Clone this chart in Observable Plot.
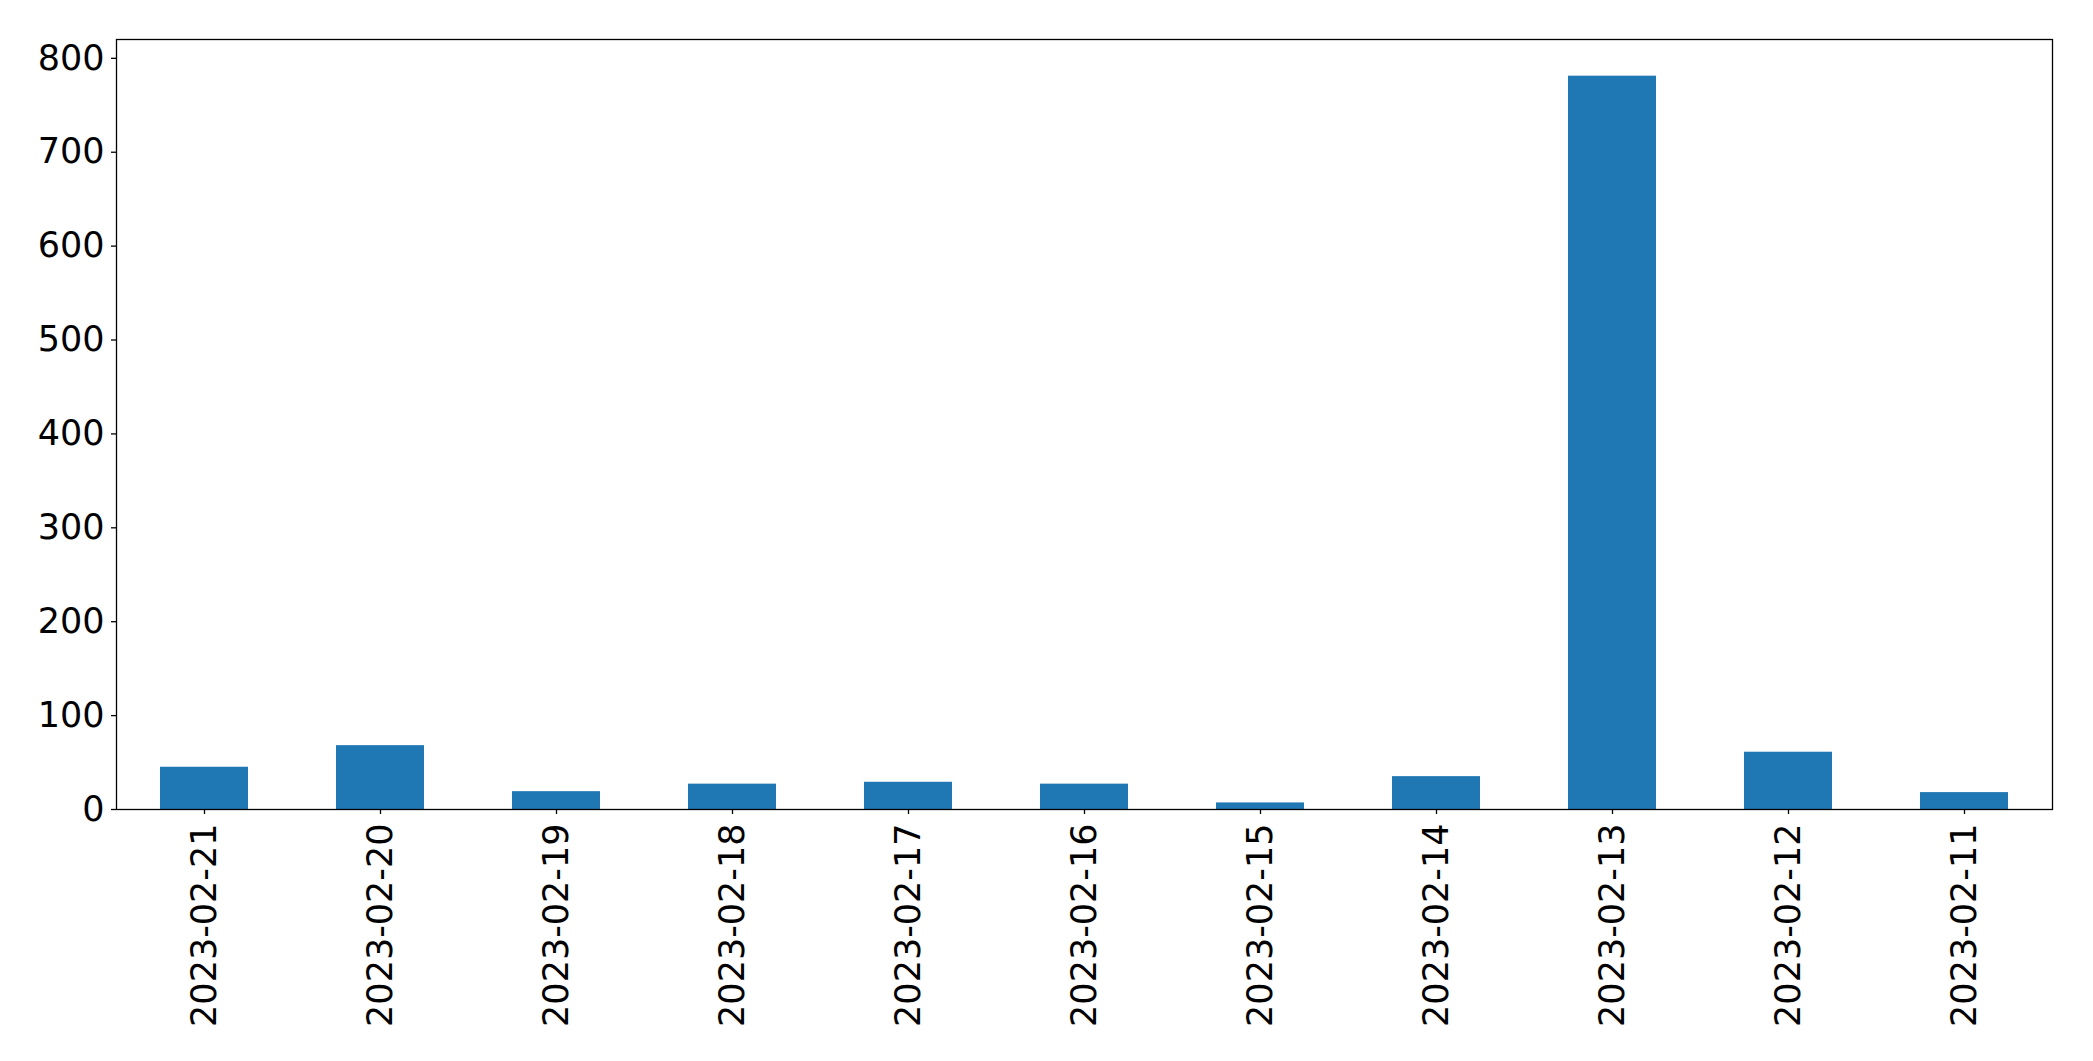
<!DOCTYPE html>
<html>
<head>
<meta charset="utf-8">
<script src="https://cdn.jsdelivr.net/npm/d3@7"></script>
<script src="https://cdn.jsdelivr.net/npm/@observablehq/plot@0.6"></script>
<style>
  html, body { margin: 0; padding: 0; background: #fff; }
  #chart svg { display: block; }
</style>
</head>
<body>
<div id="chart"></div>
<script>
const dates = ["2023-02-21","2023-02-20","2023-02-19","2023-02-18","2023-02-17","2023-02-16","2023-02-15","2023-02-14","2023-02-13","2023-02-12","2023-02-11"];
const counts = [45, 68, 19, 27, 29, 27, 7, 35, 781, 61, 18];
const yTicks = [0, 100, 200, 300, 400, 500, 600, 700, 800];

const data = dates.map((d, i) => ({date: d, count: counts[i]}));
const yMax = d3.max(counts) * 1.05;

const chart = Plot.plot({
  width: 2093,
  height: 1061,
  marginLeft: 116,
  marginRight: 41,
  marginTop: 39,
  marginBottom: 252,
  style: {fontFamily: "DejaVu Sans", fontSize: "35px", color: "#000", background: "#fff"},
  x: {domain: dates, paddingInner: 0.5, paddingOuter: 0.25, label: null},
  y: {domain: [0, yMax], label: null},
  marks: [
    Plot.barY(data, {x: "date", y: "count", fill: "#1f77b4"}),
    Plot.frame({stroke: "#000", strokeWidth: 1.3}),
    Plot.axisY({ticks: yTicks, tickSize: 5, tickPadding: 7, tickFormat: d => String(d), fontSize: 35, label: null, strokeWidth: 1.3}),
    Plot.axisX({tickSize: 5, tickPadding: 9, tickRotate: -90, fontSize: 35, label: null, strokeWidth: 1.3})
  ]
});
document.getElementById("chart").appendChild(chart);
</script>
</body>
</html>
